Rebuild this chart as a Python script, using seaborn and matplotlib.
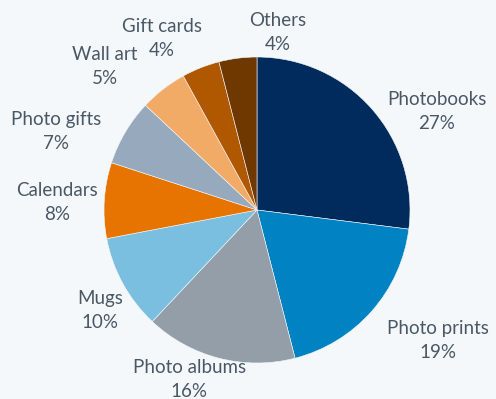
import matplotlib
matplotlib.use("Agg")
import matplotlib.pyplot as plt
import seaborn as sns

categories = ["Photobooks", "Photo prints", "Photo albums", "Mugs", "Calendars",
              "Photo gifts", "Wall art", "Gift cards", "Others"]
values = [27, 19, 16, 10, 8, 7, 5, 4, 4]
colors = ["#002b5c", "#0082c3", "#939ea8", "#7bbfe0", "#e87400",
          "#97a9bd", "#f2ab66", "#b05800", "#6f3800"]
# label centres, in units of pie radius, relative to the pie centre
label_pos = [(1.176, 0.647), (1.183, -0.85), (-0.444, -1.11), (-1.026, -0.654),
             (-1.304, 0.05), (-1.314, 0.516), (-0.993, 0.941), (-0.621, 1.124),
             (0.137, 1.157)]

bg = "#f4f8fb"
text_color = "#4a5866"

sns.set_theme(style="white")
plt.rcParams["font.family"] = ["Lato", "DejaVu Sans"]

fig = plt.figure(figsize=(4.96, 3.99), dpi=100, facecolor=bg)
ax = fig.add_axes([104 / 496, 36 / 399, 306 / 496, 306 / 399])
ax.set_facecolor(bg)
palette = sns.color_palette(colors)
ax.pie(values, colors=palette, startangle=90, counterclock=False, radius=1,
       wedgeprops=dict(edgecolor=bg, linewidth=0.4))
ax.set_xlim(-1, 1)
ax.set_ylim(-1, 1)
ax.set_aspect("equal")
ax.axis("off")

for cat, v, (x, y) in zip(categories, values, label_pos):
    ax.text(x, y, f"{cat}\n{v}%", ha="center", va="center", color=text_color,
            fontsize=13.5, linespacing=1.5, clip_on=False)

fig.savefig("out.png", dpi=100, facecolor=bg)
